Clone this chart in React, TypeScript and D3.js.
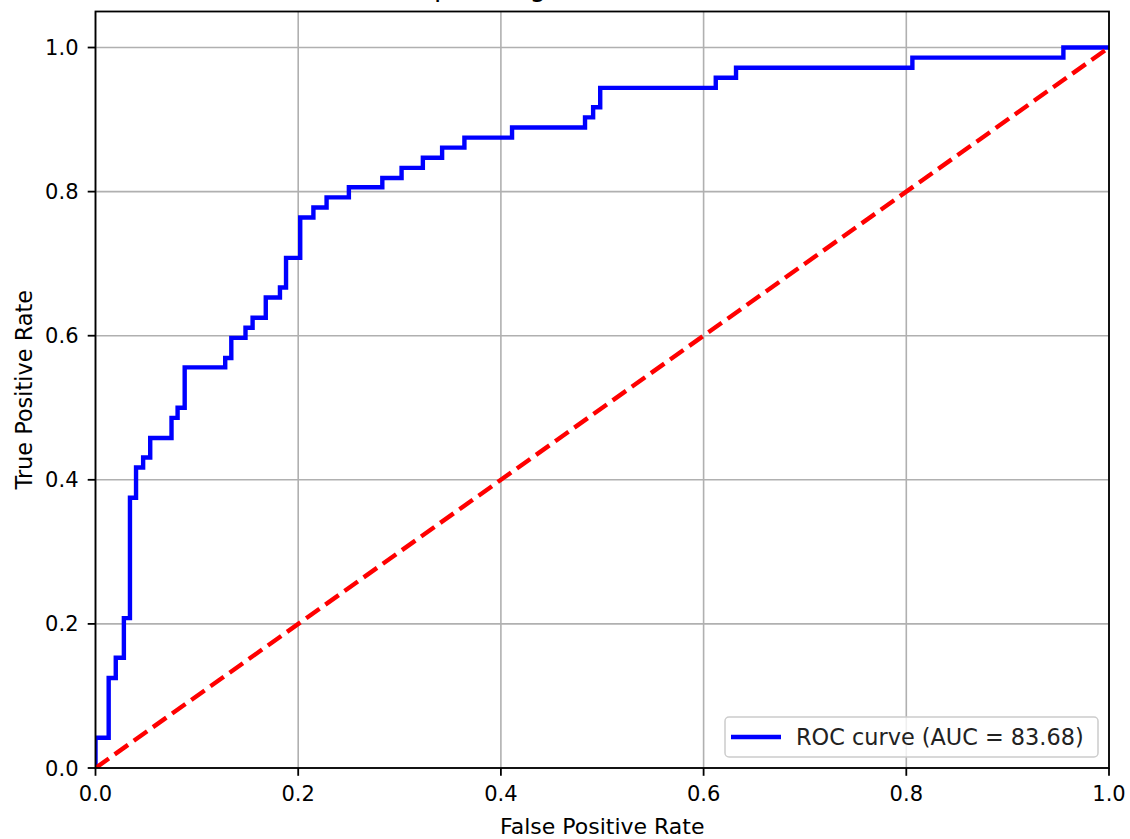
import { useMemo } from "react";
import * as d3 from "d3";

const WIDTH = 1130;
const HEIGHT = 839;
const MARGIN = { left: 95.5, right: 21, top: 11.5, bottom: 71 };
const FONT = "DejaVu Sans, Liberation Sans, sans-serif";

// ROC points (corner points of the step curve)
const fprValues = [
  0, 0, 0.013, 0.02, 0.028, 0.034, 0.04, 0.047, 0.054, 0.075, 0.081, 0.088,
  0.128, 0.134, 0.148, 0.155, 0.168, 0.182, 0.188, 0.202, 0.215, 0.228, 0.25,
  0.283, 0.302, 0.323, 0.342, 0.364, 0.411, 0.483, 0.491, 0.498, 0.612, 0.632,
  0.806, 0.955, 1.0,
];
const tprValues = [
  0, 0.042, 0.125, 0.153, 0.208, 0.375, 0.417, 0.431, 0.458, 0.486, 0.5, 0.556,
  0.569, 0.597, 0.611, 0.625, 0.653, 0.667, 0.708, 0.764, 0.778, 0.792, 0.806,
  0.819, 0.833, 0.847, 0.861, 0.875, 0.889, 0.903, 0.917, 0.944, 0.958, 0.972,
  0.986, 1.0, 1.0,
];
const chanceX = [0, 1];
const chanceY = [0, 1];
const xTicks = [0, 0.2, 0.4, 0.6, 0.8, 1.0];
const yTicks = [0, 0.2, 0.4, 0.6, 0.8, 1.0];
const legendLabel = "ROC curve (AUC = 83.68)";
const titleText = "Receiver Operating Characteristic (ROC) Curve";

export default function App() {
  const x = d3.scaleLinear().domain([0, 1]).range([MARGIN.left, WIDTH - MARGIN.right]);
  const y = d3.scaleLinear().domain([0, 1.05]).range([HEIGHT - MARGIN.bottom, MARGIN.top]);
  const fmt = d3.format(".1f");

  const rocPath = useMemo(() => {
    const pts: [number, number][] = fprValues.map((f, i) => [f, tprValues[i]]);
    return d3
      .line<[number, number]>()
      .x((d) => x(d[0]))
      .y((d) => y(d[1]))
      .curve(d3.curveStepAfter)(pts);
  }, []);

  const chancePath = d3
    .line<number>()
    .x((d) => x(d))
    .y((_, i) => y(chanceY[i]))(chanceX);

  const x0 = x(0);
  const x1 = x(1);
  const yBot = y(0);
  const yTop = y(1.05);

  // legend box, lower right
  const legRight = x1 - 11;
  const legBottom = yBot - 11;
  const legW = 373;
  const legH = 40;
  const legLeft = legRight - legW;
  const legTop = legBottom - legH;
  const legMid = legTop + legH / 2;

  return (
    <div style={{ position: "absolute", left: 0, top: 0 }}>
      <svg width={WIDTH} height={HEIGHT} style={{ display: "block", background: "white" }}>
        <defs>
          <clipPath id="plot-clip">
            <rect x={x0} y={yTop} width={x1 - x0} height={yBot - yTop} />
          </clipPath>
        </defs>

        {/* title sits mostly above the top edge, as in the source */}
        <text x={(x0 + x1) / 2} y={-4} textAnchor="middle" fontFamily={FONT} fontSize={26.7} fill="#000">
          {titleText}
        </text>

        {/* grid */}
        {xTicks.map((t) => (
          <line key={"gx" + t} x1={x(t)} x2={x(t)} y1={yTop} y2={yBot} stroke="#b0b0b0" strokeWidth={1.6} />
        ))}
        {yTicks.map((t) => (
          <line key={"gy" + t} x1={x0} x2={x1} y1={y(t)} y2={y(t)} stroke="#b0b0b0" strokeWidth={1.6} />
        ))}

        <g clipPath="url(#plot-clip)">
          <path d={rocPath || ""} fill="none" stroke="#0000ff" strokeWidth={4.4} strokeLinejoin="miter" />
          <path
            d={chancePath || ""}
            fill="none"
            stroke="#ff0000"
            strokeWidth={4.4}
            strokeDasharray="16.4 7.1"
          />
        </g>

        {/* frame */}
        <rect x={x0} y={yTop} width={x1 - x0} height={yBot - yTop} fill="none" stroke="#000" strokeWidth={1.8} />

        {/* x ticks */}
        {xTicks.map((t) => (
          <g key={"tx" + t}>
            <line x1={x(t)} x2={x(t)} y1={yBot} y2={yBot + 7.8} stroke="#000" strokeWidth={1.8} />
            <text x={x(t)} y={yBot + 33} textAnchor="middle" fontFamily={FONT} fontSize={21} fill="#000">
              {fmt(t)}
            </text>
          </g>
        ))}
        {/* y ticks */}
        {yTicks.map((t) => (
          <g key={"ty" + t}>
            <line x1={x0 - 7.8} x2={x0} y1={y(t)} y2={y(t)} stroke="#000" strokeWidth={1.8} />
            <text x={x0 - 17} y={y(t)} dy="0.36em" textAnchor="end" fontFamily={FONT} fontSize={21} fill="#000">
              {fmt(t)}
            </text>
          </g>
        ))}

        <text x={(x0 + x1) / 2} y={HEIGHT - 5} textAnchor="middle" fontFamily={FONT} fontSize={22} fill="#000">
          False Positive Rate
        </text>
        <text
          transform={`translate(32, ${(yTop + yBot) / 2}) rotate(-90)`}
          textAnchor="middle"
          fontFamily={FONT}
          fontSize={22.4}
          fill="#000"
        >
          True Positive Rate
        </text>

        {/* legend */}
        <rect
          x={legLeft}
          y={legTop}
          width={legW}
          height={legH}
          rx={4}
          fill="#fff"
          fillOpacity={0.8}
          stroke="#cccccc"
          strokeWidth={1.5}
        />
        <line x1={legLeft + 6} x2={legLeft + 56} y1={legMid} y2={legMid} stroke="#0000ff" strokeWidth={4.4} />
        <text x={legLeft + 71} y={legMid} dy="0.36em" fontFamily={FONT} fontSize={22.4} fill="#222">
          {legendLabel}
        </text>
      </svg>
    </div>
  );
}
